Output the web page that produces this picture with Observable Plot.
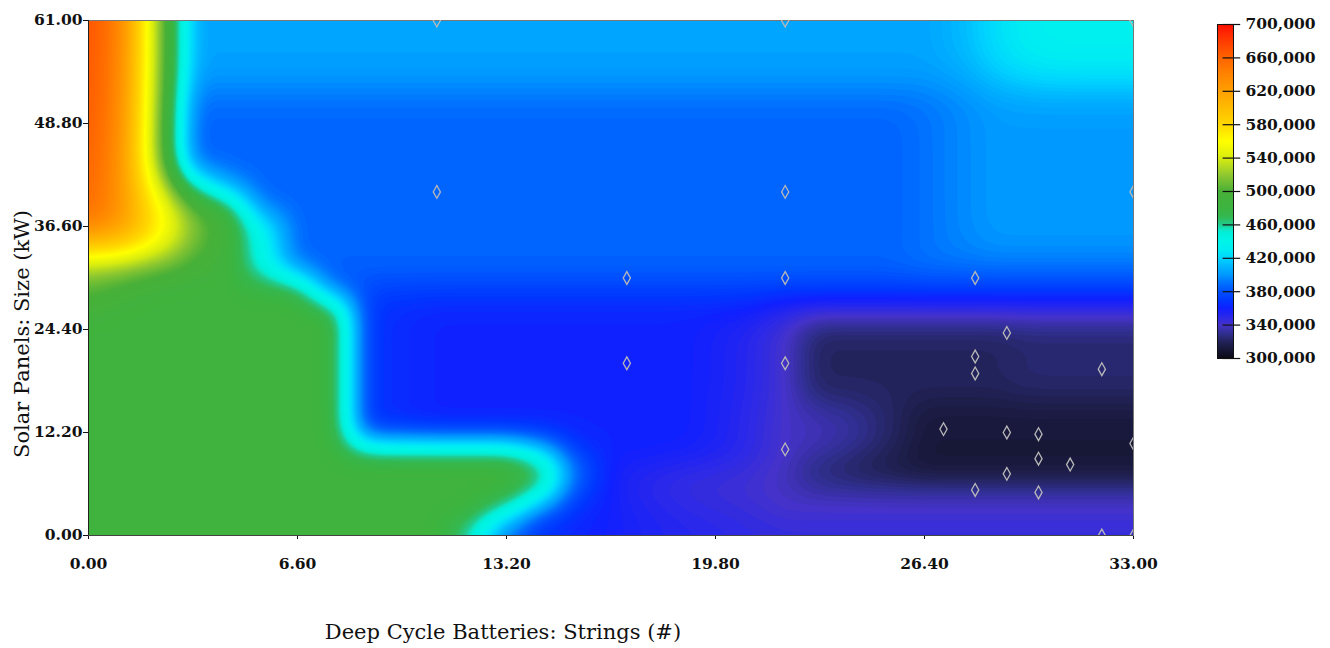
<!DOCTYPE html>
<html><head><meta charset="utf-8">
<script src="https://cdn.jsdelivr.net/npm/d3@7"></script>
<script src="https://cdn.jsdelivr.net/npm/@observablehq/plot@0.6"></script>
<style>
html,body{margin:0;padding:0;background:#fff;overflow:hidden}
#wrap{position:relative;width:1330px;height:648px}
#main{position:absolute;left:0;top:0}
#bar{position:absolute;left:1190px;top:0}
</style></head><body><div id="wrap"><div id="main"></div><div id="bar"></div></div>
<script>
// Sample grid (battery strings on x, PV size in kW on y)
const batteryStrings = [0,1.1,2.2,3.3,4.4,5.5,6.6,7.7,8.8,9.9,11,12.1,13.2,14.3,15.4,16.5,17.6,18.7,19.8,20.9,22,23.1,24.2,25.3,26.4,27.5,28.6,29.7,30.8,31.9,33];
const pvSizes = [0,2.44,4.88,7.32,9.76,12.2,14.64,17.08,19.52,21.96,24.4,26.84,29.28,31.72,34.16,36.6,39.04,41.48,43.92,46.36,48.8,51.24,53.68,56.12,58.56,61];

// Net present cost (thousands $), rows from PV = 61 kW (top) down to 0 kW (bottom)
const npcRows = [
[672,638,525,405,405,405,405,405,405,405,405,405,405,405,405,405,405,405,405,405,405,405,405,405,405,412,425,434,436,436,436],
[671,638,525,405,405,405,405,405,405,405,405,405,405,405,405,405,405,405,405,405,405,405,405,405,405,412,425,434,436,436,436],
[670,636,525,405,405,405,405,405,405,405,405,405,405,405,405,405,405,405,405,405,405,405,405,405,405,410,422,430,432,432,432],
[669,635,524,400,400,400,400,400,400,400,400,400,400,400,400,400,400,400,400,400,400,400,400,400,400,404,414,420,422,422,422],
[668,634,522,390,390,390,390,390,390,390,390,390,390,390,390,390,390,390,390,390,390,390,390,390,392,397,403,405,405,405,405],
[667,632,520,387,387,387,387,387,387,387,387,387,387,387,387,387,387,387,387,387,387,387,387,387,391,397,402,402,402,402,402],
[665,630,520,387,387,387,387,387,387,387,387,387,387,387,387,387,387,387,387,387,387,387,387,387,391,397,402,402,402,402,402],
[663,628,522,387,387,387,387,387,387,387,387,387,387,387,387,387,387,387,387,387,387,387,387,387,391,397,402,402,402,402,402],
[660,628,545,455,400,387,387,387,387,387,387,387,387,387,387,387,387,387,387,387,387,387,387,387,391,397,402,402,402,402,402],
[657,626,565,505,487,388,387,387,387,387,387,387,387,387,387,387,387,387,387,387,387,387,387,387,391,397,402,402,402,402,402],
[648,626,575,520,490,442,387,387,387,387,387,387,387,387,387,387,387,387,387,387,387,387,387,387,391,397,402,402,402,402,402],
[590,585,555,510,490,442,387,387,387,387,387,387,387,387,387,387,387,387,387,387,387,387,387,387,391,396,400,400,400,400,400],
[525,515,502,494,488,440,388,388,388,388,388,388,388,388,388,388,388,388,388,388,388,388,388,388,392,392,392,392,392,392,392],
[505,495,488,486,485,485,485,375,375,375,375,375,375,375,375,375,375,375,375,375,375,375,375,375,375,375,375,375,375,375,375],
[495,488,485,485,485,485,485,485,370,365,362,362,362,362,362,362,362,362,362,360,352,350,350,350,350,350,350,350,350,350,350],
[485,485,485,485,485,485,485,485,370,365,362,362,362,362,362,362,362,362,358,352,342,322,322,322,322,322,322,325,325,325,325],
[485,485,485,485,485,485,485,485,370,365,362,362,362,362,362,362,362,362,358,352,342,322,322,322,322,322,322,325,325,325,325],
[485,485,485,485,485,485,485,485,370,365,362,362,362,362,362,362,362,362,358,352,342,322,322,322,322,322,322,325,325,325,325],
[485,485,485,485,485,485,485,485,370,365,362,362,362,362,362,362,362,362,358,352,342,322,322,322,322,322,322,325,325,325,325],
[485,485,485,485,485,485,485,485,370,365,362,362,362,362,362,362,362,362,357,350,342,337,332,324,313,313,313,313,313,313,313],
[485,485,485,485,485,485,485,485,370,365,362,362,362,362,362,362,362,362,357,350,340,338,333,324,313,313,313,313,313,313,313],
[485,485,485,485,485,485,485,485,485,485,485,485,485,440,372,362,362,360,357,350,342,337,330,322,312,312,312,312,312,312,312],
[485,485,485,485,485,485,485,485,485,485,485,485,485,485,400,358,352,348,346,344,338,320,315,312,310,310,310,310,310,310,310],
[485,485,485,485,485,485,485,485,485,485,485,485,485,450,372,360,352,348,345,343,340,340,340,340,340,340,340,340,340,340,340],
[485,485,485,485,485,485,485,485,485,485,485,485,440,372,365,360,356,352,350,347,342,342,342,342,342,342,342,342,342,342,342],
[485,485,485,485,485,485,485,485,485,485,485,440,372,365,362,360,356,354,352,350,350,350,350,350,350,350,350,350,350,350,350]
];

// Simulated cases (diamonds)
const caseStrings = [11,22,33, 11,22,33, 17,22,28, 29, 28, 17,22, 32, 28, 27,29,30, 33, 22, 30,31,29, 28,30, 32,33];
const casePV      = [61,61,61, 40.7,40.7,40.7, 30.5,30.5,30.5, 24, 21.2, 20.4,20.4, 19.7, 19.2, 12.6,12.2,12, 10.9, 10.2, 9.1,8.4,7.3, 5.4,5.1, 0,0];

// Axis ticks
const xTicks = [0, 6.6, 13.2, 19.8, 26.4, 33];
const yTicks = [0, 12.2, 24.4, 36.6, 48.8, 61];
const legendTicks = [300,340,380,420,460,500,540,580,620,660,700];

// Colour ramp (value in thousands -> colour)
const rampStops  = [300,310,320,330,340,350,360,370,380,390,400,410,420,430,440,450,455,460,470,480,500,520,540,560,580,600,620,640,660,680,700];
const rampColors = ["#0a0a14","#161634","#222258","#302f90","#4532c8","#2a28ea","#1020ff","#0038ff","#0050ff","#0070ff","#0098ff","#00b4ff","#00d4ff","#00ecf4","#00f4e8","#00f0dc","#10e4c0","#20cc90","#34b850","#3cb440","#48b038","#90c830","#d8ec10","#ffff00","#ffd800","#ffbc00","#ffa000","#ff8400","#ff6400","#ff3c00","#ff1000"];

const grid = [];
npcRows.forEach((row, i) => {
  if (row.length !== batteryStrings.length) throw new Error("row " + i + " has " + row.length);
  row.forEach((v, j) => grid.push({x: batteryStrings[j], y: pvSizes[pvSizes.length - 1 - i], v}));
});
const cases = caseStrings.map((x, i) => ({x, y: casePV[i]}));

const tallDiamond = {
  draw(context, size) {
    const r = Math.sqrt(size / Math.PI);
    const w = r * 0.9, h = r * 1.6;
    context.moveTo(0, -h); context.lineTo(w, 0); context.lineTo(0, h); context.lineTo(-w, 0); context.closePath();
  }
};

const colorScale = {type: "linear", domain: rampStops, range: rampColors, clamp: true};
const tickFont = {fontFamily: "'DejaVu Serif', serif", fontWeight: "bold", fontSize: "15.5px", color: "#111", background: "transparent"};

const main = Plot.plot({
  width: 1330, height: 648,
  marginLeft: 88, marginRight: 197, marginTop: 20, marginBottom: 113,
  x: {domain: [0, 33], ticks: xTicks, tickFormat: d3.format(".2f"), tickSize: 4, tickPadding: 18, label: null},
  y: {domain: [0, 61], ticks: yTicks, tickFormat: d3.format(".2f"), tickSize: 5, tickPadding: 1, label: null},
  color: colorScale,
  style: tickFont,
  marks: [
    Plot.contour(grid, {x: "x", y: "y", value: "v", fill: "value", interpolate: "nearest", blur: 7, pixelSize: 2, thresholds: d3.range(290.5, 702, 2), stroke: "none"}),
    Plot.frame({stroke: "#777"}),
    Plot.ruleX([0], {stroke: "#222"}),
    Plot.ruleY([0], {stroke: "#444"}),
    Plot.dot(cases, {x: "x", y: "y", r: 4, symbol: tallDiamond, stroke: "#b8b8b8", strokeWidth: 1.3, fill: "none", clip: true}),
    Plot.text(["Deep Cycle Batteries: Strings (#)"], {frameAnchor: "bottom", textAnchor: "middle", dx: -108, dy: 103, fontSize: 21, fontWeight: "normal", fontFamily: "'DejaVu Serif', serif", fill: "#111"}),
    Plot.text(["Solar Panels: Size (kW)"], {frameAnchor: "left", textAnchor: "middle", lineAnchor: "middle", dx: -66, dy: 56, rotate: -90, fontSize: 21, fontWeight: "normal", fontFamily: "'DejaVu Serif', serif", fill: "#111"})
  ]
});
document.getElementById("main").append(main);

const bar = Plot.plot({
  width: 140, height: 380,
  marginLeft: 27, marginRight: 97, marginTop: 24, marginBottom: 22,
  x: {domain: [0, 1], axis: null},
  y: {domain: [300, 700], ticks: legendTicks, tickFormat: d => d3.format(",")(d * 1000), tickSize: 0, tickPadding: 12, label: null, axis: "right"},
  color: colorScale,
  style: tickFont,
  marks: [
    Plot.raster({x1: 0, x2: 1, y1: 300, y2: 700, fill: (x, y) => y, pixelSize: 1}),
    Plot.ruleY(legendTicks, {x1: 0.35, x2: 1.45, stroke: "#111", strokeWidth: 1.2}),
    Plot.frame({stroke: "#111"})
  ]
});
document.getElementById("bar").append(bar);
</script></body></html>
